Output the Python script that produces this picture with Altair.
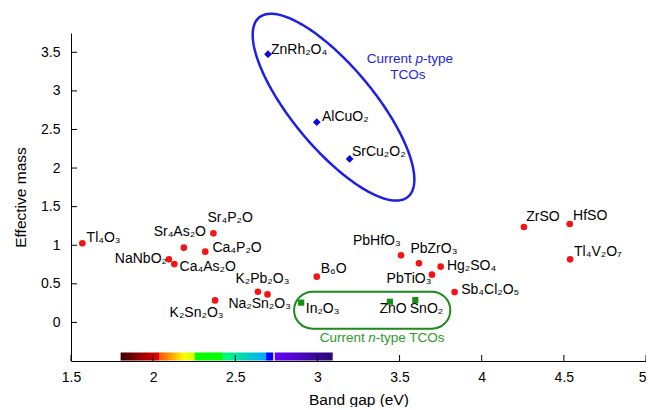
import altair as alt
import numpy as np
import pandas as pd

FONT = "Liberation Sans"

# ---------------- data ----------------
red_names = ["Tl₄O₃", "Sr₄As₂O", "Sr₄P₂O", "Ca₄P₂O", "NaNbO₂", "Ca₄As₂O", "K₂Pb₂O₃",
             "Na₂Sn₂O₃", "K₂Sn₂O₃", "B₆O", "PbHfO₃", "PbZrO₃", "Hg₂SO₄", "PbTiO₃",
             "Sb₄Cl₂O₅", "ZrSO", "HfSO", "Tl₄V₂O₇"]
red_gap = [1.569, 2.187, 2.367, 2.317, 2.096, 2.129, 2.638, 2.696, 2.377, 2.996, 3.509,
           3.618, 3.750, 3.697, 3.835, 4.257, 4.536, 4.538]
red_mass = [1.025, 0.969, 1.154, 0.917, 0.817, 0.756, 0.398, 0.363, 0.285, 0.593, 0.869,
            0.765, 0.722, 0.619, 0.393, 1.236, 1.275, 0.817]
red_label_x = [1.595, 2.003, 2.331, 2.361, 1.767, 2.161, 2.501, 2.458, 2.100, 3.020, 3.216,
               3.566, 3.788, 3.421, 3.875, 4.271, 4.556, 4.562]
red_label_y = [1.089, 1.176, 1.349, 0.960, 0.821, 0.722, 0.562, 0.237, 0.117, 0.691, 1.060,
               0.951, 0.735, 0.558, 0.419, 1.371, 1.384, 0.917]

p_names = ["ZnRh₂O₄", "AlCuO₂", "SrCu₂O₂"]
p_gap = [2.699, 2.996, 3.196]
p_mass = [3.476, 2.594, 2.118]
p_label_x = [2.717, 3.028, 3.210]
p_label_y = [3.532, 2.668, 2.205]

n_names = ["In₂O₃", "ZnO", "SnO₂"]
n_gap = [2.901, 3.441, 3.596]
n_mass = [0.256, 0.268, 0.289]
n_label_x = [2.929, 3.378, 3.562]
n_label_y = [0.173, 0.173, 0.173]

x_ticks = [1.5, 2, 2.5, 3, 3.5, 4, 4.5, 5]
y_ticks = [0, 0.5, 1, 1.5, 2, 2.5, 3, 3.5]

# visible spectrum bar (photon energy in eV -> colour)
spec_energy = [1.802, 2.037, 2.037, 2.120, 2.188, 2.254, 2.254, 2.419, 2.425, 2.685,
               2.691, 2.731, 2.733, 2.738, 2.741, 3.093]
spec_color = ["#3c0000", "#e60000", "#ff5500", "#ffaa00", "#ffff00", "#ccff00", "#00ff00",
              "#00ff00", "#00ff77", "#00aaff", "#0000ff", "#0000ff", "#ffffff", "#ffffff",
              "#6600ff", "#2a0a70"]
spec_mass = [-0.39, -0.495]

# p-type ellipse (centre in data units, semi-axes in px, tilt in degrees)
ell_cx, ell_cy = 3.098, 2.789
ell_a, ell_b, ell_tilt = 116.5, 41, 50.3

# n-type rounded box
nbox_gap = [2.858, 3.809]
nbox_mass = [0.398, -0.082]

X0, X1 = 1.5, 5
Y0, Y1 = -0.5, 3.75
W, H = 575, 328

xs = alt.Scale(domain=[X0, X1], nice=False, zero=False)
ys = alt.Scale(domain=[Y0, Y1], nice=False, zero=False)

BLUE = "#1e1ee6"
GREEN_LINE = "#1a8a1a"
GREEN_TEXT = "#2a9a2a"

axis_common = dict(domainColor="black", domainWidth=1, ticks=False, tickSize=0, grid=False,
                   labelFont=FONT, labelFontSize=14, labelColor="black", format="~g",
                   labelFlush=False,
                   titleFont=FONT, titleFontSize=15.5, titleFontWeight="normal",
                   titleColor="black")
x_axis = alt.Axis(values=x_ticks, title="Band gap (eV)", labelPadding=9, titlePadding=8,
                  labelAlign={"expr": "datum.value == 5 ? 'right' : 'center'"},
                  **axis_common)
y_axis = alt.Axis(values=y_ticks, title="Effective mass", labelPadding=11, titlePadding=12,
                  **axis_common)


def X(f):
    return alt.X(f, scale=xs, axis=x_axis)


def Y(f):
    return alt.Y(f, scale=ys, axis=y_axis)


# ---------------- layers ----------------
red_df = pd.DataFrame({"gap": red_gap, "mass": red_mass})
red = alt.Chart(red_df).mark_circle(size=44, color="#f41414", opacity=1).encode(
    x=X("gap:Q"), y=Y("mass:Q"))

p_df = pd.DataFrame({"gap": p_gap, "mass": p_mass})
pts_p = alt.Chart(p_df).mark_point(shape="diamond", size=60, filled=True, color="#0a0ad8",
                                   opacity=1).encode(x=X("gap:Q"), y=Y("mass:Q"))

n_df = pd.DataFrame({"gap": n_gap, "mass": n_mass})
pts_n = alt.Chart(n_df).mark_square(size=38, color="#119311", opacity=1).encode(
    x=X("gap:Q"), y=Y("mass:Q"))

lab_df = pd.DataFrame({
    "name": red_names + p_names + n_names,
    "lx": red_label_x + p_label_x + n_label_x,
    "ly": red_label_y + p_label_y + n_label_y,
})
labels = alt.Chart(lab_df).mark_text(align="left", baseline="middle", font=FONT,
                                     fontSize=14, color="black").encode(
    x=X("lx:Q"), y=Y("ly:Q"), text="name:N")

# spectrum bar
e0, e1 = spec_energy[0], spec_energy[-1]
stops = [alt.GradientStop(color=c, offset=(e - e0) / (e1 - e0))
         for e, c in zip(spec_energy, spec_color)]
spec_df = pd.DataFrame({"a": [e0], "b": [e1], "m1": [spec_mass[0]], "m2": [spec_mass[1]]})
spectrum = alt.Chart(spec_df).mark_rect(
    fill=alt.Gradient(gradient="linear", stops=stops, x1=0, x2=1, y1=0, y2=0)
).encode(x=X("a:Q"), x2="b:Q", y=Y("m1:Q"), y2="m2:Q")

# p-type ellipse outline
sx = W / (X1 - X0)
sy = H / (Y1 - Y0)
t = np.linspace(0, 2 * np.pi, 241)
th = np.deg2rad(ell_tilt)
px = ell_a * np.cos(t) * np.cos(th) - ell_b * np.sin(t) * np.sin(th)
py = ell_a * np.cos(t) * np.sin(th) + ell_b * np.sin(t) * np.cos(th)
ell_df = pd.DataFrame({"ex": ell_cx + px / sx, "ey": ell_cy - py / sy, "o": np.arange(len(t))})
ellipse = alt.Chart(ell_df).mark_line(color=BLUE, strokeWidth=2.5).encode(
    x=X("ex:Q"), y=Y("ey:Q"), order="o:Q")

# n-type rounded box
nbox_df = pd.DataFrame({"a": [nbox_gap[0]], "b": [nbox_gap[1]],
                        "m1": [nbox_mass[0]], "m2": [nbox_mass[1]]})
nbox = alt.Chart(nbox_df).mark_rect(filled=False, stroke=GREEN_LINE, strokeWidth=2,
                                    cornerRadius=18.5, fillOpacity=0).encode(
    x=X("a:Q"), x2="b:Q", y=Y("m1:Q"), y2="m2:Q")

# annotations
ann = [
    # text, x, y, align, dx, italic, colour
    ("Current", 3.597, 3.411, "right", -3.7, False, BLUE),
    ("p", 3.597, 3.411, "left", 0, True, BLUE),
    ("-type", 3.597, 3.411, "left", 7.4, False, BLUE),
    ("TCOs", 3.550, 3.204, "center", 0, False, BLUE),
    ("Current", 3.310, -0.198, "right", -3.7, False, GREEN_TEXT),
    ("n", 3.310, -0.198, "left", 0, True, GREEN_TEXT),
    ("-type TCOs", 3.310, -0.198, "left", 7.4, False, GREEN_TEXT),
]
ann_layers = []
for txt, ax, ay, al, dx, it, col in ann:
    d = pd.DataFrame({"x": [ax], "y": [ay], "t": [txt]})
    ann_layers.append(
        alt.Chart(d).mark_text(align=al, baseline="middle", dx=dx, font=FONT, fontSize=13.5,
                               fontStyle="italic" if it else "normal", color=col).encode(
            x=X("x:Q"), y=Y("y:Q"), text="t:N"))

# inward ticks
xt = alt.Chart(pd.DataFrame({"v": x_ticks})).mark_rule(color="black", strokeWidth=1).encode(
    x=X("v:Q"), y=alt.value(H), y2=alt.value(H - 6))
yt = alt.Chart(pd.DataFrame({"v": y_ticks})).mark_rule(color="black", strokeWidth=1).encode(
    y=Y("v:Q"), x=alt.value(0), x2=alt.value(6))

chart = alt.layer(
    red, spectrum, xt, yt, ellipse, nbox, pts_p, pts_n, labels, *ann_layers
).properties(
    width=W, height=H,
    autosize=alt.AutoSizeParams(type="none"),
    padding={"left": 63, "top": 25, "right": 0, "bottom": 46},
).configure_view(stroke=None)

chart.save("out.html", embed_options={"renderer": "svg", "actions": False})
